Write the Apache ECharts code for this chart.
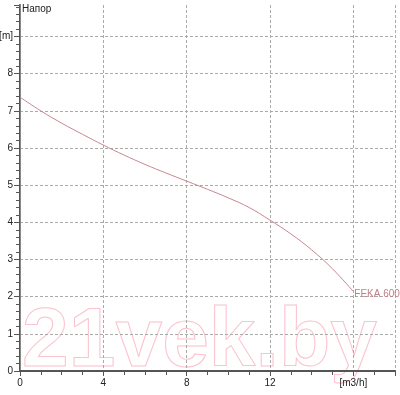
<!DOCTYPE html>
<html>
<head>
<meta charset="utf-8">
<script src="https://cdn.jsdelivr.net/npm/echarts@6/dist/echarts.min.js"></script>
<style>html,body{margin:0;padding:0;background:#fff;}#c{width:400px;height:395px;}</style>
</head>
<body>
<div id="c"></div>
<script>
const seriesName = 'FEKA 600';
const flowValues = [0, 1, 2, 3, 4, 5, 6, 7, 8, 9, 10, 11, 12, 13, 14, 15, 16];
const headValues = [7.37, 7.0, 6.67, 6.37, 6.08, 5.81, 5.56, 5.33, 5.11, 4.89, 4.66, 4.4, 4.06, 3.69, 3.26, 2.75, 2.14];
const xTickLabels = ['0', '4', '8', '12', '[m3/h]'];
const yTickLabels = ['0', '1', '2', '3', '4', '5', '6', '7', '8', '[m]'];
const yTitle = 'Напор';
const watermark = '21vek.by';

const chart = echarts.init(document.getElementById('c'));
const font = 'Liberation Sans, Arial, sans-serif';
chart.setOption({
  animation: false,
  backgroundColor: '#fff',
  grid: { left: 20, right: 5, top: 5, bottom: 24, containLabel: false, outerBoundsMode: 'none' },
  graphic: [
    { type: 'text', left: 22, top: 4, z: 10, style: { text: yTitle, fill: '#222', font: '10px ' + font } },
    { type: 'text', x: 22, y: 301, z: 0, silent: true,
      style: { text: watermark, fill: 'transparent', stroke: '#fbc2cf', lineWidth: 1, font: 'bold 84px ' + font, verticalAlign: 'top' } }
  ],
  xAxis: {
    type: 'value', min: 0, max: 18, interval: 4,
    axisLine: { show: true, onZero: false, lineStyle: { color: '#555', width: 2 } },
    axisTick: { show: true, length: 5, lineStyle: { color: '#555' } },
    minorTick: { show: true, splitNumber: 4, length: 4, lineStyle: { color: '#555' } },
    axisLabel: { color: '#222', fontSize: 10, fontFamily: font, margin: 7, showMaxLabel: false,
      formatter: function (v) { const i = Math.round(v / 4); return (v % 4 === 0 && i < xTickLabels.length) ? xTickLabels[i] : ''; } },
    splitLine: { show: true, lineStyle: { color: '#aaa', type: [3, 2], width: 1 } }
  },
  yAxis: [{
    type: 'value', min: 0, max: 9.85, interval: 1,
    axisLine: { show: true, onZero: false, lineStyle: { color: '#555', width: 2 } },
    axisTick: { show: true, length: 6, lineStyle: { color: '#555' } },
    minorTick: { show: true, splitNumber: 5, length: 4, lineStyle: { color: '#555' } },
    axisLabel: { color: '#222', fontSize: 10, fontFamily: font, margin: 7, showMaxLabel: false,
      formatter: function (v) { return (Number.isInteger(v) && v < yTickLabels.length) ? yTickLabels[v] : ''; } },
    splitLine: { show: true, showMinLine: false, showMaxLine: false, lineStyle: { color: '#aaa', type: [3, 2], width: 1 } }
  }, {
    type: 'value', min: 0, max: 9.85, position: 'right',
    axisLine: { show: true, lineStyle: { color: '#888', width: 1 } },
    axisTick: { show: false }, axisLabel: { show: false }, splitLine: { show: false }
  }],
  series: [{
    name: seriesName,
    type: 'line',
    data: flowValues.map((x, i) => [x, headValues[i]]),
    smooth: 0.4,
    showSymbol: false,
    lineStyle: { color: '#c98790', width: 1 },
    itemStyle: { color: '#c98790' },
    endLabel: { show: true, formatter: seriesName, color: '#c0808a', fontSize: 10, fontFamily: font, distance: 1, offset: [0, 3] },
    z: 5
  }]
});
</script>
</body>
</html>
